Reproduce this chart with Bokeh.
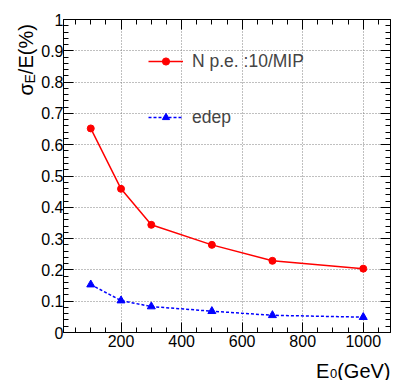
import math
from bokeh.plotting import figure
from bokeh.models import (Range1d, LinearAxis, FixedTicker, Legend, LegendItem,
                          Label, Grid, ColumnDataSource, CustomLabelingPolicy)
from bokeh.embed import file_html
from bokeh.resources import INLINE

# ---- data ----
energy = [100, 200, 300, 500, 700, 1000]
npe_res = [0.652, 0.459, 0.344, 0.280, 0.229, 0.204]
edep_res = [0.153, 0.102, 0.083, 0.068, 0.055, 0.049]
series_names = ["N p.e. :10/MIP", "edep"]

x_major = [200, 400, 600, 800, 1000]
x_labels = ["200", "400", "600", "800", "1000"]
y_major = [0.0, 0.1, 0.2, 0.3, 0.4, 0.5, 0.6, 0.7, 0.8, 0.9, 1.0]
y_labels = ["0", "0.1", "0.2", "0.3", "0.4", "0.5", "0.6", "0.7", "0.8", "0.9", "1"]
x_title = ["E", "0", "(GeV)"]
y_title = ["\u03c3", "E", "/E(%)"]

X_LIM = (10, 1090)
Y_LIM = (0, 1)

FONT = "Liberation Sans"

x_minor = [50 * i for i in range(1, 22)]
y_minor = [round(0.02 * i, 2) for i in range(0, 51)]

# ---- layout: the plotting frame covers the whole canvas; the data box sits inside ----
W, H = 392, 380
BOX_L, BOX_R, BOX_T, BOX_B = 63, 390, 19, 332
kx = (BOX_R - BOX_L) / (X_LIM[1] - X_LIM[0])
ky = (BOX_B - BOX_T) / (Y_LIM[1] - Y_LIM[0])
XR = Range1d(X_LIM[0] - BOX_L / kx, X_LIM[1] + (W - BOX_R) / kx)
YR = Range1d(Y_LIM[0] - (H - BOX_B) / ky, Y_LIM[1] + BOX_T / ky)

p = figure(width=W, height=H, x_range=XR, y_range=YR,
           output_backend="svg", toolbar_location=None,
           x_axis_type=None, y_axis_type=None,
           min_border_left=0, min_border_right=0, min_border_top=0, min_border_bottom=0)
p.outline_line_color = None
p.background_fill_color = "white"
p.border_fill_color = "white"

xt = FixedTicker(ticks=x_major, minor_ticks=x_minor)
yt = FixedTicker(ticks=y_major, minor_ticks=y_minor)

no_labels_code = """
try {
  for (let i = 0; i < indices.size; i++) { indices.unset(i) }
} catch (e) {}
return indices
"""


def style_axis(ax, show_labels):
    ax.axis_line_color = "black"
    ax.axis_line_width = 1
    ax.major_tick_in = 10
    ax.major_tick_out = 0
    ax.minor_tick_in = 5
    ax.minor_tick_out = 0
    ax.major_tick_line_color = "black"
    ax.minor_tick_line_color = "black"
    ax.major_label_text_font = FONT
    ax.major_label_text_color = "black"
    if show_labels:
        ax.major_label_text_font_size = "16px"
    else:
        ax.major_label_text_font_size = "0px"
        ax.major_label_standoff = 0
        ax.major_label_policy = CustomLabelingPolicy(code=no_labels_code)


xb = LinearAxis(ticker=xt, fixed_location=Y_LIM[0], bounds=X_LIM,
                major_label_overrides={v: s for v, s in zip(x_major, x_labels)})
style_axis(xb, True)
xb.major_label_standoff = 2
p.add_layout(xb, "below")

yl = LinearAxis(ticker=yt, fixed_location=X_LIM[0], bounds=Y_LIM,
                major_label_overrides={v: s for v, s in zip(y_major, y_labels)})
style_axis(yl, True)
yl.major_label_standoff = 0
p.add_layout(yl, "left")

xa = LinearAxis(ticker=xt, fixed_location=Y_LIM[1], bounds=X_LIM)
style_axis(xa, False)
p.add_layout(xa, "above")

yr = LinearAxis(ticker=yt, fixed_location=X_LIM[1], bounds=Y_LIM)
style_axis(yr, False)
p.add_layout(yr, "right")

grid_style = dict(line_color="#808080", line_dash="1 2", line_width=1)
if "cross_bounds" in Grid.properties():
    p.add_layout(Grid(dimension=0, ticker=xt, bounds=X_LIM, cross_bounds=Y_LIM,
                      grid_line_color="#808080", grid_line_dash="1 2", grid_line_width=1))
    p.add_layout(Grid(dimension=1, ticker=yt, bounds=Y_LIM, cross_bounds=X_LIM,
                      grid_line_color="#808080", grid_line_dash="1 2", grid_line_width=1))
else:
    p.segment(x0=x_major, y0=[Y_LIM[0]] * len(x_major), x1=x_major,
              y1=[Y_LIM[1]] * len(x_major), **grid_style)
    p.segment(x0=[X_LIM[0]] * len(y_major), y0=y_major, x1=[X_LIM[1]] * len(y_major),
              y1=y_major, **grid_style)

src = ColumnDataSource(dict(e=energy, npe=npe_res, edep=edep_res))
r1 = p.line("e", "npe", source=src, line_color="#ff0000", line_width=1.5)
r1s = p.scatter("e", "npe", source=src, marker="circle", size=7,
                fill_color="#ff0000", line_color="#ff0000")
r2 = p.line("e", "edep", source=src, line_color="#0000ff", line_width=1.5, line_dash="3 2")
r2s = p.scatter("e", "edep", source=src, marker="triangle", size=8,
                fill_color="#0000ff", line_color="#0000ff")

legend = Legend(items=[LegendItem(label=series_names[0], renderers=[r1, r1s]),
                       LegendItem(label=series_names[1], renderers=[r2, r2s])],
                location=(148, 249), glyph_width=35, glyph_height=18, label_height=28,
                spacing=28, padding=0, margin=0, border_line_color=None,
                background_fill_alpha=0, label_text_font=FONT,
                label_text_font_size="17.5px", label_standoff=9)
p.add_layout(legend)

# ---- axis titles, anchored to the data-box corners with pixel offsets ----
fs_t, fs_s = 20, 13
w_gev = 2.667 * fs_t
w_sub0 = 0.556 * fs_s + 0.5
common = dict(text_font=FONT, text_color="black", text_baseline="alphabetic")

p.add_layout(Label(x=X_LIM[1], y=Y_LIM[0], x_offset=0, y_offset=-38, text=x_title[2],
                   text_font_size=f"{fs_t}px", text_align="right", **common))
p.add_layout(Label(x=X_LIM[1], y=Y_LIM[0], x_offset=-w_gev, y_offset=-41, text=x_title[1],
                   text_font_size=f"{fs_s}px", text_align="right", **common))
p.add_layout(Label(x=X_LIM[1], y=Y_LIM[0], x_offset=-w_gev - w_sub0, y_offset=-38,
                   text=x_title[0], text_font_size=f"{fs_t}px", text_align="right", **common))

w_sig = 0.6 * fs_t
w_subE = 0.667 * 14
y0 = 237
p.add_layout(Label(x=X_LIM[0], y=Y_LIM[0], x_offset=-38, y_offset=y0, text=y_title[0],
                   text_font_size=f"{fs_t}px", text_align="left", angle=math.pi / 2, **common))
p.add_layout(Label(x=X_LIM[0], y=Y_LIM[0], x_offset=-34, y_offset=y0 + w_sig, text=y_title[1],
                   text_font_size="14px", text_align="left", angle=math.pi / 2, **common))
p.add_layout(Label(x=X_LIM[0], y=Y_LIM[0], x_offset=-38, y_offset=y0 + w_sig + w_subE,
                   text=y_title[2], text_font_size=f"{fs_t}px", text_align="left",
                   angle=math.pi / 2, **common))

open("out.html", "w").write(file_html(p, INLINE))
